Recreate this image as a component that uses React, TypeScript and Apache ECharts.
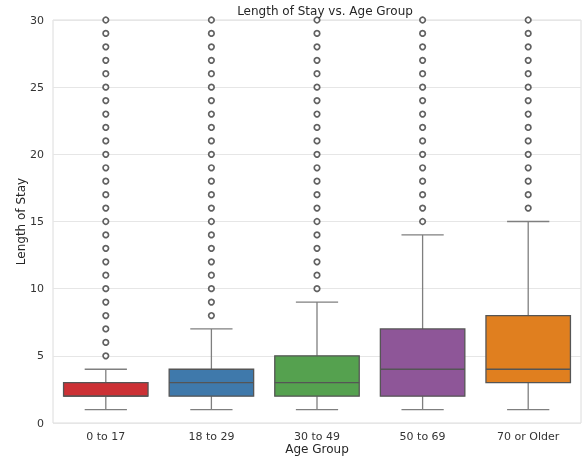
import React, { useEffect, useRef } from "react";
import * as echarts from "echarts";

const categories = ["0 to 17", "18 to 29", "30 to 49", "50 to 69", "70 or Older"];
const whiskerLow = [1, 1, 1, 1, 1];
const q1 = [2, 2, 2, 2, 3];
const median = [2, 3, 3, 4, 4];
const q3 = [3, 4, 5, 7, 8];
const whiskerHigh = [4, 7, 9, 14, 15];
const outliers0 = [5, 6, 7, 8, 9, 10, 11, 12, 13, 14, 15, 16, 17, 18, 19, 20, 21, 22, 23, 24, 25, 26, 27, 28, 29, 30];
const outliers1 = [8, 9, 10, 11, 12, 13, 14, 15, 16, 17, 18, 19, 20, 21, 22, 23, 24, 25, 26, 27, 28, 29, 30];
const outliers2 = [10, 11, 12, 13, 14, 15, 16, 17, 18, 19, 20, 21, 22, 23, 24, 25, 26, 27, 28, 29, 30];
const outliers3 = [15, 16, 17, 18, 19, 20, 21, 22, 23, 24, 25, 26, 27, 28, 29, 30];
const outliers4 = [16, 17, 18, 19, 20, 21, 22, 23, 24, 25, 26, 27, 28, 29, 30];
const yTicks = [0, 5, 10, 15, 20, 25, 30];
const boxColors = ["#cc3135", "#3f79ab", "#55a14f", "#8e5698", "#e07f1f"];

export default function App() {
  const ref = useRef<HTMLDivElement>(null);
  useEffect(() => {
    if (!ref.current) return;
    const chart = echarts.init(ref.current, null, { renderer: "svg" });
    const boxData = categories.map((_, i) => [i, whiskerLow[i], q1[i], median[i], q3[i], whiskerHigh[i]]);
    const allOutliers = [outliers0, outliers1, outliers2, outliers3, outliers4];
    const outlierData: number[][] = [];
    allOutliers.forEach((arr, i) => arr.forEach((v) => outlierData.push([i, v])));
    const font = "DejaVu Sans";
    chart.setOption({
      animation: false,
      title: {
        text: "Length of Stay vs. Age Group",
        left: 320,
        textAlign: "center",
        top: 0,
        textStyle: { fontFamily: font, fontSize: 12, fontWeight: "normal", color: "#262626" },
      },
      grid: {
        left: 53,
        right: 1,
        top: 20,
        bottom: 33,
        containLabel: false,
        outerBoundsMode: "none",
        show: true,
        borderColor: "#dcdcdc",
        borderWidth: 1,
      },
      xAxis: {
        type: "category",
        data: categories,
        name: "Age Group",
        nameLocation: "middle",
        nameGap: 20,
        nameMoveOverlap: false,
        nameTextStyle: { fontFamily: font, fontSize: 12, color: "#262626" },
        axisLine: { show: false },
        axisTick: { show: false },
        axisLabel: { fontFamily: font, fontSize: 11, color: "#333", margin: 8 },
        splitLine: { show: false },
      },
      yAxis: {
        type: "value",
        min: 0,
        max: 30,
        interval: 5,
        name: "Length of Stay",
        nameLocation: "middle",
        nameGap: 26,
        nameMoveOverlap: false,
        nameTextStyle: { fontFamily: font, fontSize: 12, color: "#262626" },
        axisLine: { show: false },
        axisTick: { show: false },
        axisLabel: {
          fontFamily: font,
          fontSize: 11,
          color: "#333",
          margin: 9,
          formatter: (v: number) => (yTicks.includes(v) ? String(v) : ""),
        },
        splitLine: { lineStyle: { color: "#e6e6e6", width: 1 } },
      },
      series: [
        {
          type: "custom",
          data: boxData,
          encode: { x: 0, y: [1, 2, 3, 4, 5] },
          renderItem: (params: any, api: any) => {
            const idx = api.value(0);
            const w = api.size([1, 0])[0] * 0.8;
            const pLow = api.coord([idx, api.value(1)]);
            const pQ1 = api.coord([idx, api.value(2)]);
            const pMed = api.coord([idx, api.value(3)]);
            const pQ3 = api.coord([idx, api.value(4)]);
            const pHigh = api.coord([idx, api.value(5)]);
            const cx = pLow[0];
            const cap = w / 4;
            const whisk = { stroke: "#7f7f7f", lineWidth: 1.3 };
            return {
              type: "group",
              children: [
                { type: "line", shape: { x1: cx, y1: pLow[1], x2: cx, y2: pQ1[1] }, style: whisk },
                { type: "line", shape: { x1: cx, y1: pQ3[1], x2: cx, y2: pHigh[1] }, style: whisk },
                { type: "line", shape: { x1: cx - cap, y1: pLow[1], x2: cx + cap, y2: pLow[1] }, style: whisk },
                { type: "line", shape: { x1: cx - cap, y1: pHigh[1], x2: cx + cap, y2: pHigh[1] }, style: whisk },
                {
                  type: "rect",
                  shape: { x: cx - w / 2, y: pQ3[1], width: w, height: pQ1[1] - pQ3[1] },
                  style: { fill: boxColors[idx], stroke: "#555555", lineWidth: 1.3 },
                },
                {
                  type: "line",
                  shape: { x1: cx - w / 2, y1: pMed[1], x2: cx + w / 2, y2: pMed[1] },
                  style: { stroke: "#555555", lineWidth: 1.3 },
                },
              ],
            };
          },
          z: 3,
        },
        {
          type: "scatter",
          data: outlierData,
          symbol: "circle",
          symbolSize: 5.5,
          clip: true,
          itemStyle: { color: "#ffffff", borderColor: "#3a3a3a", borderWidth: 1.7 },
          z: 4,
        },
      ],
    });
    return () => chart.dispose();
  }, []);
  return <div ref={ref} style={{ position: "fixed", left: 0, top: 0, width: 582, height: 456 }} />;
}
